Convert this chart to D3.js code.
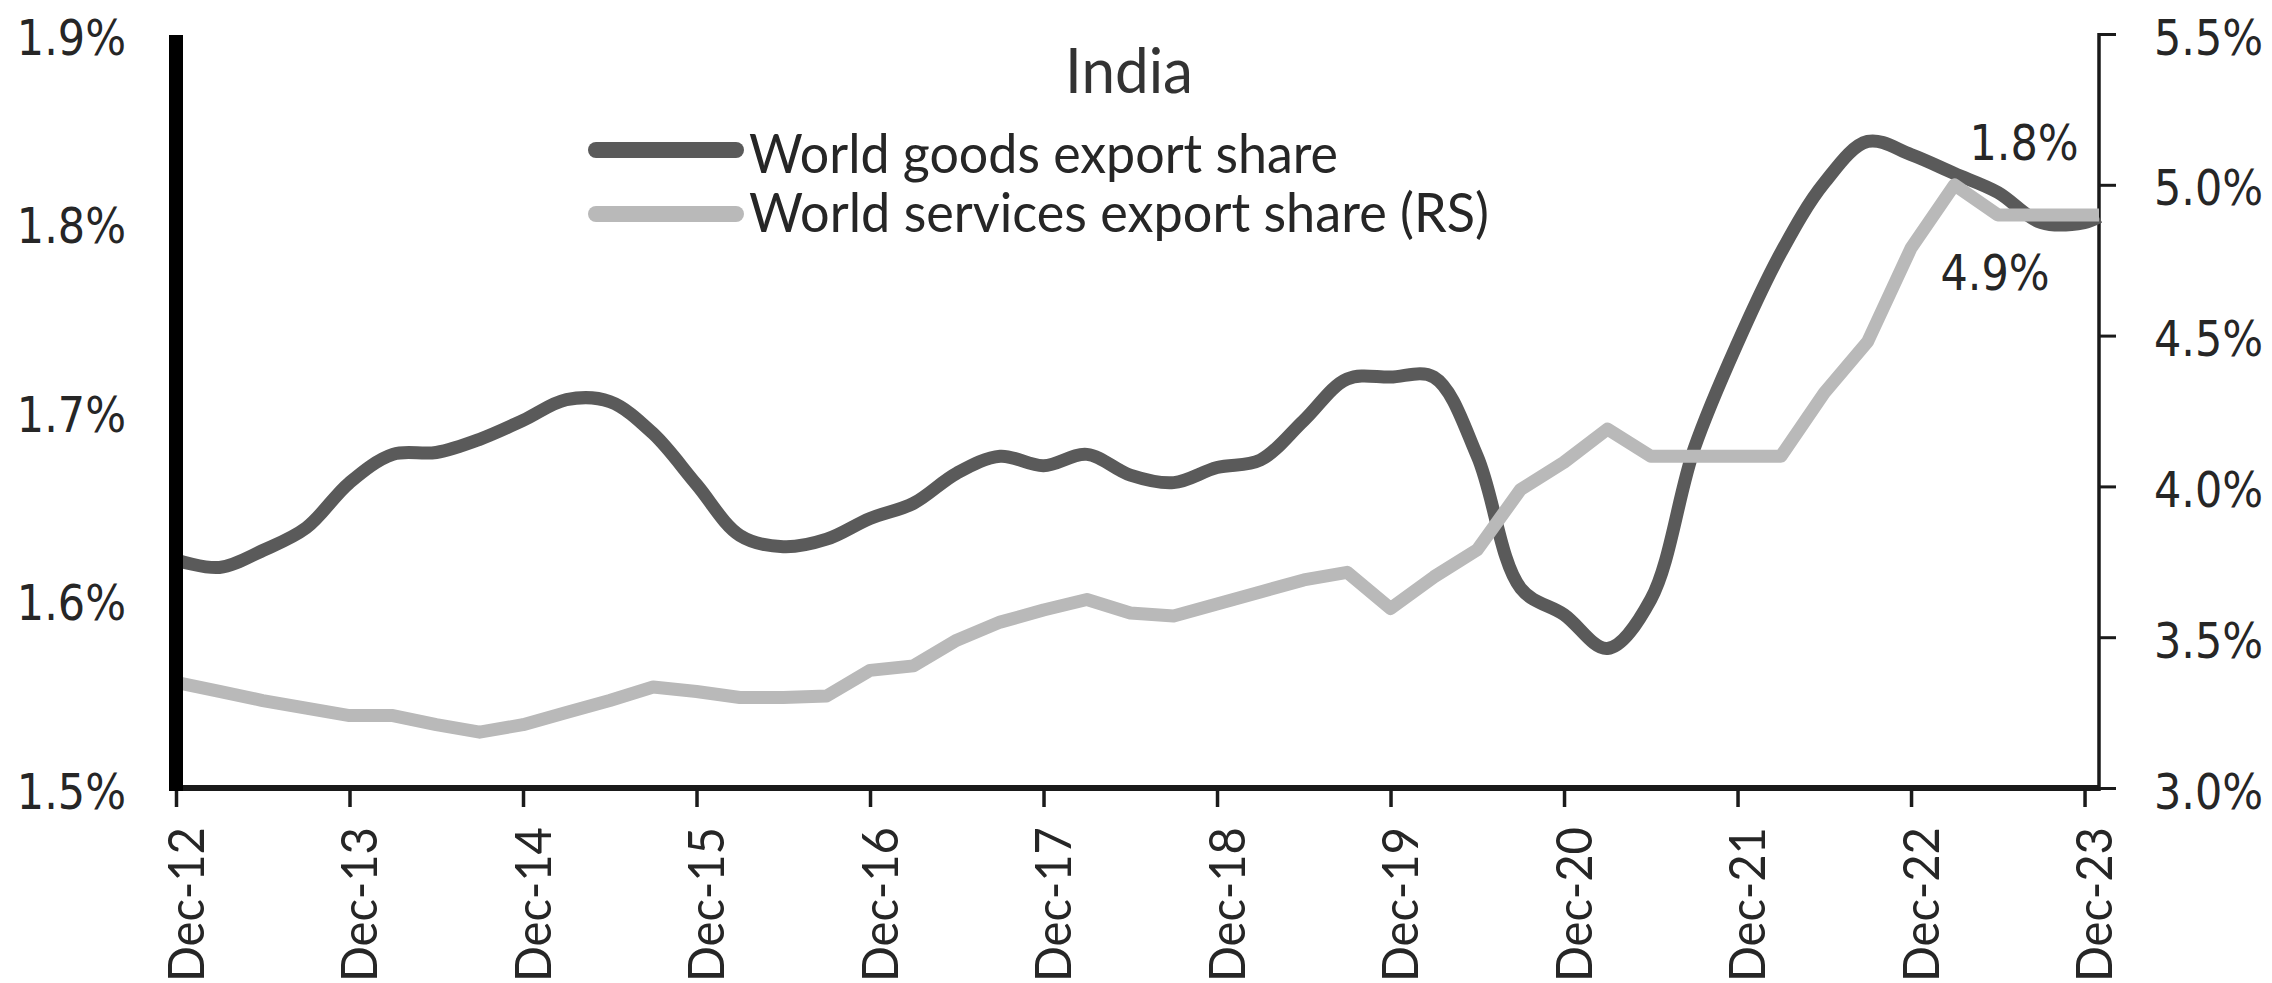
<!DOCTYPE html>
<html>
<head>
<meta charset="utf-8">
<script src="https://cdn.jsdelivr.net/npm/d3@7"></script>
<style>
  html, body { margin: 0; padding: 0; background: #ffffff; }
  svg { display: block; }
</style>
</head>
<body>
<svg id="chart" width="2272" height="983"></svg>
<script>
// India: share of world exports, goods (left scale) and services (right scale)
const chartTitle = "India";
const seriesNames = ["World goods export share", "World services export share (RS)"];

const periods = [
  "Dec-12", "Mar-13", "Jun-13", "Sep-13", "Dec-13", "Mar-14", "Jun-14", "Sep-14",
  "Dec-14", "Mar-15", "Jun-15", "Sep-15", "Dec-15", "Mar-16", "Jun-16", "Sep-16",
  "Dec-16", "Mar-17", "Jun-17", "Sep-17", "Dec-17", "Mar-18", "Jun-18", "Sep-18",
  "Dec-18", "Mar-19", "Jun-19", "Sep-19", "Dec-19", "Mar-20", "Jun-20", "Sep-20",
  "Dec-20", "Mar-21", "Jun-21", "Sep-21", "Dec-21", "Mar-22", "Jun-22", "Sep-22",
  "Dec-22", "Mar-23", "Jun-23", "Sep-23", "Dec-23", "Jan-24"
];

// % of world goods exports
const goodsShare = [
  1.621, 1.617, 1.626, 1.638, 1.662, 1.677, 1.678, 1.685,
  1.695, 1.706, 1.705, 1.688, 1.661, 1.634, 1.628, 1.632,
  1.643, 1.651, 1.667, 1.676, 1.671, 1.677, 1.666, 1.662,
  1.670, 1.674, 1.695, 1.717, 1.718, 1.718, 1.676, 1.606,
  1.592, 1.574, 1.600, 1.680, 1.736, 1.784, 1.821, 1.843,
  1.836, 1.826, 1.816, 1.800, 1.800, 1.803
];

// % of world services exports
const servicesShare = [
  3.35, 3.32, 3.29, 3.265, 3.24, 3.24, 3.21, 3.185,
  3.21, 3.25, 3.29, 3.335, 3.32, 3.30, 3.30, 3.305,
  3.39, 3.405, 3.49, 3.55, 3.59, 3.625, 3.58, 3.57,
  3.61, 3.65, 3.69, 3.715, 3.595, 3.70, 3.79, 3.99,
  4.08, 4.19, 4.10, 4.10, 4.10, 4.10, 4.31, 4.48,
  4.79, 5.00, 4.90, 4.90, 4.90, 4.90
];

const xTickLabels = ["Dec-12", "Dec-13", "Dec-14", "Dec-15", "Dec-16", "Dec-17",
                     "Dec-18", "Dec-19", "Dec-20", "Dec-21", "Dec-22", "Dec-23"];
const leftTicks = [1.5, 1.6, 1.7, 1.8, 1.9];
const rightTicks = [3.0, 3.5, 4.0, 4.5, 5.0, 5.5];

// ---- geometry and style ----
const plot = { left: 176, right: 2099, top: 34, bottom: 788 };
const goodsColor = "#5a5a5a";
const servicesColor = "#b9b9b9";
const textColor = "#262626";
const numFont = "'DejaVu Sans', Verdana, sans-serif";
const wordFont = "Lato, 'Open Sans', sans-serif";
const numSize = 43;      // numeric labels, drawn slightly tall
const numStretch = 1.15;

const parse = d3.timeParse("%b-%y");
const origin = parse(periods[0]);
const monthIndex = label => d3.timeMonth.count(origin, parse(label));

const goods = periods.map((p, i) => ({ m: monthIndex(p), v: goodsShare[i] }));
const services = periods.map((p, i) => ({ m: monthIndex(p), v: servicesShare[i] }));

const x = d3.scaleLinear()
  .domain([0, monthIndex(periods[periods.length - 1])])
  .range([plot.left, plot.right]);
const yL = d3.scaleLinear().domain([1.5, 1.9]).range([plot.bottom, plot.top]);
const yR = d3.scaleLinear().domain([3.0, 5.5]).range([plot.bottom, plot.top]);

const svg = d3.select("#chart");
const fmt = v => v.toFixed(1) + "%";

// ---- x axis ----
const gx = svg.append("g")
  .attr("transform", `translate(0,${plot.bottom})`)
  .call(d3.axisBottom(x)
    .tickValues(xTickLabels.map(monthIndex))
    .tickFormat((d, i) => xTickLabels[i])
    .tickSize(19)
    .tickSizeOuter(0));
gx.select(".domain")
  .attr("d", `M${plot.left - 6},0H${plot.right + 1}`)
  .attr("stroke", "#1a1a1a").attr("stroke-width", 6);
gx.selectAll(".tick line").attr("stroke", "#1a1a1a").attr("stroke-width", 3.5);
gx.selectAll(".tick text")
  .attr("transform", "rotate(-90)")
  .attr("text-anchor", "end")
  .attr("x", -39).attr("y", 27).attr("dy", 0)
  .attr("fill", textColor)
  .style("font-family", wordFont)
  .style("font-size", "51px")
  .attr("textLength", 155)
  .attr("lengthAdjust", "spacingAndGlyphs");

// ---- left axis (goods) ----
const gl = svg.append("g")
  .attr("transform", `translate(${plot.left},0)`)
  .call(d3.axisLeft(yL)
    .tickValues(leftTicks)
    .tickFormat(fmt)
    .tickSize(0)
    .tickSizeOuter(0)
    .tickPadding(50));
gl.select(".domain")
  .attr("d", `M0,${plot.bottom + 3}V${plot.top + 1}`)
  .attr("stroke", "#000").attr("stroke-width", 14);
gl.selectAll(".tick text")
  .attr("transform", `scale(1,${numStretch})`)
  .attr("dy", 20 / numStretch)
  .attr("fill", textColor)
  .style("font-family", numFont)
  .style("font-size", numSize + "px");

// ---- right axis (services) ----
const gr = svg.append("g")
  .attr("transform", `translate(${plot.right},0)`)
  .call(d3.axisRight(yR)
    .tickValues(rightTicks)
    .tickFormat(fmt)
    .tickSize(17)
    .tickSizeOuter(0)
    .tickPadding(38));
gr.select(".domain")
  .attr("d", `M0,${plot.bottom + 3}V${plot.top - 1}`)
  .attr("stroke", "#1a1a1a").attr("stroke-width", 3.5);
gr.selectAll(".tick line").attr("stroke", "#1a1a1a").attr("stroke-width", 3);
gr.selectAll(".tick text")
  .attr("transform", `scale(1,${numStretch})`)
  .attr("dy", 20 / numStretch)
  .attr("fill", textColor)
  .style("font-family", numFont)
  .style("font-size", numSize + "px");

// ---- series ----
const goodsLine = d3.line()
  .x(d => x(d.m)).y(d => yL(d.v))
  .curve(d3.curveCatmullRom.alpha(0.5));
const servicesLine = d3.line()
  .x(d => x(d.m)).y(d => yR(d.v));

svg.append("path")
  .datum(goods)
  .attr("d", goodsLine)
  .attr("fill", "none")
  .attr("stroke", goodsColor)
  .attr("stroke-width", 13)
  .attr("stroke-linejoin", "round");

svg.append("path")
  .datum(services)
  .attr("d", servicesLine)
  .attr("fill", "none")
  .attr("stroke", servicesColor)
  .attr("stroke-width", 13)
  .attr("stroke-linejoin", "round");

// redraw the thick left spine above the line ends
svg.append("line")
  .attr("x1", plot.left).attr("x2", plot.left)
  .attr("y1", plot.top + 1).attr("y2", plot.bottom + 3)
  .attr("stroke", "#000").attr("stroke-width", 14);

// ---- end-of-series value labels ----
function valueLabel(px, py, label) {
  svg.append("text")
    .attr("transform", `translate(${px},${py}) scale(1,${numStretch})`)
    .attr("text-anchor", "middle")
    .attr("fill", textColor)
    .style("font-family", numFont).style("font-size", numSize + "px")
    .text(label);
}
const lastGoods = goods[goods.length - 1];
const lastServices = services[services.length - 1];
valueLabel(x(lastGoods.m) - 75, yL(lastGoods.v) - 57, fmt(lastGoods.v));
valueLabel(x(lastServices.m) - 104, yR(lastServices.v) + 75, fmt(lastServices.v));

// ---- title ----
svg.append("text")
  .attr("x", 1129).attr("y", 93)
  .attr("text-anchor", "middle")
  .attr("fill", "#333")
  .style("font-family", wordFont).style("font-size", "61px")
  .attr("textLength", 128).attr("lengthAdjust", "spacingAndGlyphs")
  .text(chartTitle);

// ---- legend ----
const legendItems = [
  { name: seriesNames[0], color: goodsColor, y: 150, baseline: 173, width: 589 },
  { name: seriesNames[1], color: servicesColor, y: 214, baseline: 232, width: 740 }
];
const lg = svg.append("g");
legendItems.forEach(it => {
  lg.append("line")
    .attr("x1", 596).attr("x2", 736)
    .attr("y1", it.y).attr("y2", it.y)
    .attr("stroke", it.color).attr("stroke-width", 16)
    .attr("stroke-linecap", "round");
  lg.append("text")
    .attr("x", 749).attr("y", it.baseline)
    .attr("fill", textColor)
    .style("font-family", wordFont).style("font-size", "54px")
    .attr("textLength", it.width).attr("lengthAdjust", "spacingAndGlyphs")
    .text(it.name);
});
</script>
</body>
</html>
